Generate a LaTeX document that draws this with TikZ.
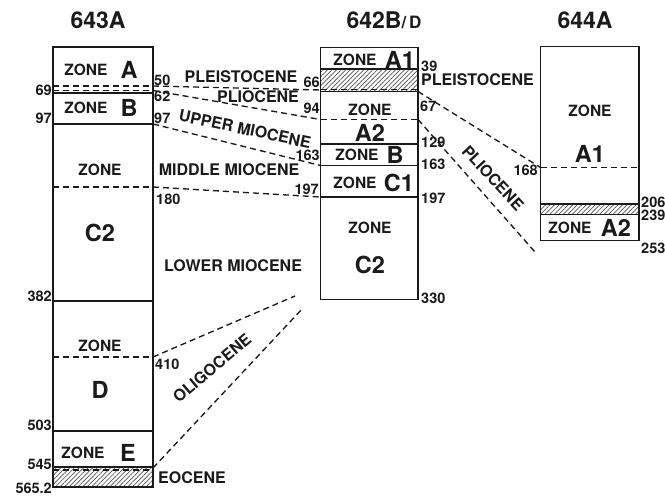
\documentclass[tikz,border=0pt]{standalone}
\usepackage{fontspec}
\setmainfont{TeX Gyre Heros}
\usetikzlibrary{patterns.meta}
\definecolor{ink}{HTML}{1A1A1A}
\newcommand{\fsz}[1]{\fontsize{#1}{#1}\selectfont\bfseries}
\tikzset{
  col/.style={draw=ink,line width=1.2pt},
  div/.style={draw=ink,line width=1.7pt},
  dsh/.style={draw=ink,line width=1.35pt,dash pattern=on 6pt off 4pt},
  hatch/.style={pattern={Lines[angle=45,distance=3.2pt,line width=0.7pt]},pattern color=ink!75},
  zn/.style={text=ink,font=\fsz{15.5},inner sep=0pt},
  zl/.style={text=ink,font=\fsz{23.5},inner sep=0pt},
  era/.style={text=ink,font=\fsz{16},inner sep=0pt},
  num/.style={text=ink,font=\fsz{14.5},inner sep=0pt},
  ttl/.style={text=ink,font=\fsz{23},inner sep=0pt},
}
\begin{document}
\begin{tikzpicture}[x=1pt,y=-1pt]
\useasboundingbox (0,0) rectangle (665,497);
% titles
\node[ttl] (t1) at (98,20) {643A};
\node[ttl] (t2) at (384,20) {642B\fsz{17}/\,D};
\node[ttl] (t3) at (585,20) {644A};

% ---- 643A ----
\coordinate (a50) at (153,86);
\coordinate (a62) at (153,90.5);
\coordinate (a97) at (153,124);
\coordinate (a180) at (153,187);
\coordinate (a410) at (153,357);
\coordinate (a545) at (153,468);
\fill[hatch] (53,468) rectangle (153,487);
\draw[dsh] (53,86) -- (a50);
\draw[dsh] (53,90.5) -- (a62);
\draw[div] (53,93) -- (153,93);
\draw[div] (53,124) -- (a97);
\draw[dsh] (53,187) -- (a180);
\draw[div] (53,301) -- (153,301);
\draw[dsh] (53,357) -- (a410);
\draw[div] (53,431) -- (153,431);
\draw[div] (53,467) -- (153,467);
\draw[dsh] (53,470) -- (153,470);
\draw[col] (53,47) rectangle (153,487);

\node[zn] (zA) at (86,70) {ZONE};
\node[zl] (lA) at (129,70) {A};
\node[zn] (zB) at (86,108) {ZONE};
\node[zl] (lB) at (129,108) {B};
\node[zn] (zC) at (100,170) {ZONE};
\node[zl] (lC) at (100,233) {C2};
\node[zn] (zD) at (100,346) {ZONE};
\node[zl] (lD) at (100,390) {D};
\node[zn] (zE) at (83,453) {ZONE};
\node[zl] (lE) at (128,453) {E};

\node[num,anchor=east] (n69) at (52,90) {69};
\node[num,anchor=east] (n97a) at (52,118) {97};
\node[num,anchor=east] (n382) at (52,296) {382};
\node[num,anchor=east] (n503) at (52,425) {503};
\node[num,anchor=east] (n545) at (52,464) {545};
\node[num,anchor=east] (n565) at (52,488) {565.2};
\node[num,anchor=west] (n50) at (154,80) {50};
\node[num,anchor=west] (n62) at (154,96) {62};
\node[num,anchor=west] (n97b) at (154,118) {97};
\node[num,anchor=west] (n180) at (156,199) {180};
\node[num,anchor=west] (n410) at (155,364) {410};

% ---- 642B/D ----
\coordinate (b66) at (320.5,90);
\coordinate (b94) at (320.5,119.5);
\coordinate (b163) at (320.5,165.5);
\coordinate (b197) at (320.5,197);
\coordinate (b67) at (418,91.5);
\coordinate (b94r) at (418,119.5);
\fill[hatch] (320.5,69) rectangle (418,91);
\draw[div] (320.5,69) -- (418,69);
\draw[dsh] (320.5,89.5) -- (418,89.5);
\draw[div] (320.5,91.5) -- (b67);
\draw[dsh] (b94) -- (b94r);
\draw[div] (320.5,144) -- (418,144);
\draw[div] (b163) -- (418,165.5);
\draw[div] (b197) -- (418,197);
\draw[col] (320.5,47.5) rectangle (418,299.5);

\node[zn] (zA1) at (355,60) {ZONE};
\node[zl] (lA1) at (400,60) {A1};
\node[zn] (zA2) at (370,110) {ZONE};
\node[zl] (lA2) at (370,133) {A2};
\node[zn] (zB2) at (357,155) {ZONE};
\node[zl] (lB2) at (395,155) {B};
\node[zn] (zC1) at (355,183) {ZONE};
\node[zl] (lC1) at (399,183) {C1};
\node[zn] (zC2) at (370,228) {ZONE};
\node[zl] (lC2) at (370,265) {C2};

\node[num,anchor=east] (n66) at (320,82) {66};
\node[num,anchor=east] (n94) at (320,108) {94};
\node[num,anchor=east] (n163a) at (320,155) {163};
\node[num,anchor=east] (n197a) at (319,189) {197};
\node[num,anchor=west] (n39) at (421,66) {39};
\node[num,anchor=west] (n67) at (420,106) {67};
\node[num,anchor=west] (n129) at (421,142) {129};
\node[num,anchor=west] (n163b) at (421,164) {163};
\node[num,anchor=west] (n197b) at (421,198) {197};
\node[num,anchor=west] (n330) at (421,298) {330};

% ---- 644A ----
\coordinate (c168) at (540.5,167.5);
\coordinate (cend) at (535,252);
\fill[hatch] (540.5,204) rectangle (639,214.5);
\draw[dsh] (c168) -- (639,167.5);
\draw[div] (540.5,204) -- (639,204);
\draw[div] (540.5,214.5) -- (639,214.5);
\draw[col] (540.5,46.5) rectangle (639,240.5);

\node[zn] (zA1c) at (590,111) {ZONE};
\node[zl] (lA1c) at (590,154) {A1};
\node[zn] (zA2c) at (570,228) {ZONE};
\node[zl] (lA2c) at (616,228) {A2};

\node[num,anchor=east] (n168) at (538,170) {168};
\node[num,anchor=west] (n206) at (641,202) {206};
\node[num,anchor=west] (n239) at (641,215) {239};
\node[num,anchor=west] (n253) at (641,248) {253};

% ---- correlation lines ----
\coordinate (o1) at (295,296);
\coordinate (o2) at (303,308);
\draw[dsh] (a50) -- (b66);
\draw[dsh] (a62) -- (b94);
\draw[dsh] (a97) -- (b163);
\draw[dsh] (a180) -- (b197);
\draw[dsh] (b67) -- (c168);
\draw[dsh] (b94r) -- (cend);
\draw[dsh] (a410) -- (o1);
\draw[dsh] (a545) -- (o2);

% ---- era labels ----
\node[era] (e1) at (241,77) {PLEISTOCENE};
\node[era,anchor=west] (e2) at (421,80) {PLEISTOCENE};
\node[era] (e3) at (258,97) {PLIOCENE};
\node[era,rotate=-12] (e4) at (245,129) {UPPER MIOCENE};
\node[era] (e5) at (229,170) {MIDDLE MIOCENE};
\node[era] (e6) at (233,266) {LOWER MIOCENE};
\node[era,rotate=40] (e7) at (212,368) {OLIGOCENE};
\node[era,anchor=west] (e8) at (158,478) {EOCENE};
\node[era,rotate=-47] (e9) at (493,178) {PLIOCENE};
\end{tikzpicture}
\end{document}
